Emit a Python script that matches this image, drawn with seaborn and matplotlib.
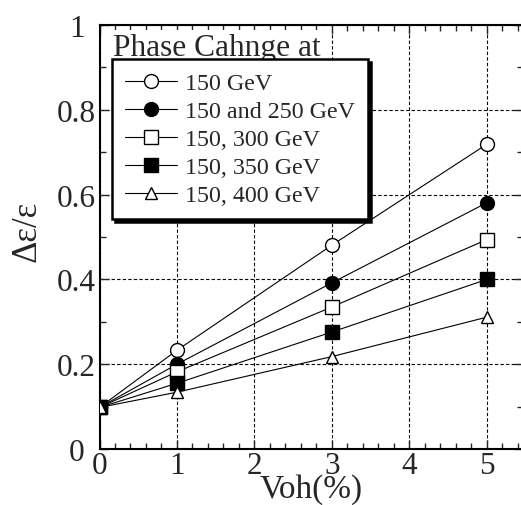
import numpy as np
import pandas as pd
import matplotlib
matplotlib.use("Agg")
import matplotlib.pyplot as plt
from matplotlib.ticker import MultipleLocator
import seaborn as sns

# Data
voh = [0, 1, 3, 5]
labels = ["150 GeV", "150 and 250 GeV", "150, 300 GeV", "150, 350 GeV", "150, 400 GeV"]
ratio_150 = [0.098, 0.233, 0.481, 0.719]
ratio_250 = [0.098, 0.200, 0.392, 0.581]
ratio_300 = [0.098, 0.182, 0.335, 0.494]
ratio_350 = [0.098, 0.155, 0.276, 0.400]
ratio_400 = [0.098, 0.134, 0.218, 0.311]

series = [ratio_150, ratio_250, ratio_300, ratio_350, ratio_400]
df = pd.concat([pd.DataFrame({"Voh": voh, "ratio": s, "case": lab})
                for s, lab in zip(series, labels)], ignore_index=True)

sns.set_style("ticks")
plt.rcParams["font.family"] = ["Liberation Serif", "DejaVu Serif"]

fig = plt.figure(figsize=(5.21, 5.06), dpi=100)
# right spine sits just past the image edge, as in the reference
ax = fig.add_axes([99.5 / 521, 56 / 506, 423.5 / 521, 424 / 506])

markers = ["o", "o", "s", "s", "^"]
faces = ["white", "black", "white", "black", "white"]
sizes = [10, 10, 10, 10, 9]
for lab, m, fc, ms in zip(labels, markers, faces, sizes):
    sns.lineplot(data=df[df["case"] == lab], x="Voh", y="ratio", ax=ax,
                 color="black", linewidth=0.8, marker=m, markersize=ms,
                 markerfacecolor=fc, markeredgecolor="black",
                 markeredgewidth=1.0, label=lab, zorder=3)

ax.set_xlim(0, 5.465)
ax.set_ylim(0, 1)
ax.xaxis.set_major_locator(MultipleLocator(1))
ax.xaxis.set_minor_locator(MultipleLocator(0.2))
ax.yaxis.set_minor_locator(MultipleLocator(0.1))
ax.set_yticks([0, 0.2, 0.4, 0.6, 0.8, 1])
ax.set_yticklabels(["0", "0.2", "0.4", "0.6", "0.8", "1"], ha="center")
ax.grid(True, which="major", color="black", linestyle=(0, (3, 2)), linewidth=0.8)
ax.set_axisbelow(True)

ax.tick_params(which="both", direction="in", top=True, right=True,
               labelsize=22.5, width=1.0)
ax.tick_params(axis="x", pad=1.5)
ax.tick_params(axis="y", pad=16.5)
ax.tick_params(which="major", length=6.5)
ax.tick_params(which="minor", length=4.5)
for sp in ax.spines.values():
    sp.set_linewidth(1.5)
    sp.set_color("black")

ax.set_xlabel("Voh(%)", fontsize=24)
ax.xaxis.set_label_coords(0.5, -0.058)
ax.set_ylabel("Δε/ε", fontsize=25)
ax.yaxis.set_label_coords(-0.131, 0.515)

leg = ax.legend(loc="upper left", bbox_to_anchor=(0.030, 0.92),
                borderaxespad=0, fontsize=17.3, handlelength=2.15,
                labelspacing=0.26, handletextpad=0.32, borderpad=0.55,
                frameon=True, fancybox=False, framealpha=1,
                edgecolor="black", shadow={"color": "black", "alpha": 1})
leg.get_frame().set_linewidth(1.8)
leg.set_zorder(5)

ax.text(0.032, 0.93, "Phase Cahnge at", transform=ax.transAxes,
        fontsize=22.6, va="baseline", ha="left", zorder=4,
        bbox=dict(facecolor="white", edgecolor="none", pad=2))

fig.savefig("out.png", dpi=100)
